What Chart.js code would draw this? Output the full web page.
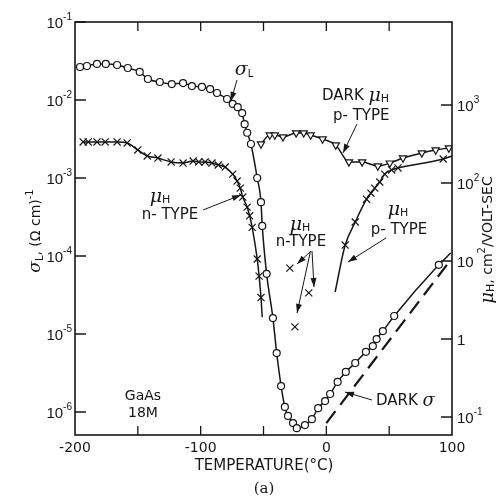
<!DOCTYPE html>
<html>
<head>
<meta charset="utf-8">
<script src="https://cdn.jsdelivr.net/npm/chart.js@4"></script>
<style>
  html, body { margin: 0; padding: 0; background: #fff; }
  canvas { display: block; }
</style>
</head>
<body>
<canvas id="c" width="496" height="499"></canvas>
<script>
// --- Data ---

// photo-conductivity sigma_L, (ohm cm)^-1  (open circles, left axis)
const sigmaTemp = [-196, -190.5, -182.5, -175.5, -166.5, -158, -148.5, -142, -132.5, -123, -114, -107, -99, -92.5, -87, -79,
                   -74.5, -70.5, -67, -65, -63, -60, -55, -52, -51, -47.5, -42.5, -39.5, -36, -33, -30.5, -26.5, -23.5,
                   -17, -11.5, -6.5, -1, 3, 9, 15.5, 23, 31.5, 37, 40, 45, 54, 89.5, 99];
const sigmaL    = [2.65e-2, 2.73e-2, 2.9e-2, 2.9e-2, 2.81e-2, 2.57e-2, 2.29e-2, 1.86e-2, 1.7e-2, 1.6e-2, 1.65e-2, 1.51e-2,
                   1.47e-2, 1.38e-2, 1.23e-2, 1.03e-2, 8.9e-3, 8.1e-3, 6.8e-3, 4.9e-3, 3.8e-3, 2.73e-3, 1.0e-3, 4.9e-4,
                   2.43e-4, 5.9e-5, 1.6e-5, 5.7e-6, 2.15e-6, 1.16e-6, 8.9e-7, 7.2e-7, 6.2e-7, 6.8e-7, 8.1e-7, 1.12e-6,
                   1.38e-6, 1.7e-6, 2.43e-6, 3.26e-6, 4.25e-6, 5.9e-6, 7.0e-6, 8.6e-6, 1.09e-5, 1.7e-5, 7.7e-5, 1.09e-4];

// dark conductivity (long dashes, left axis)
const darkSigmaTemp = [0, 100];
const darkSigma     = [7.2e-7, 9.4e-5];

// Hall mobility, n-type (crosses, right axis)
const muNTemp = [-193.5, -189.5, -182.5, -176, -166.5, -158.5, -150, -142.5, -134, -123.5, -114, -106, -101.5, -96.5,
                 -91, -86, -80.5, -74.5, -71, -68.5, -66.5, -63, -61, -59, -55, -53.5, -52, -51];
const muN     = [336, 336, 336, 336, 336, 326, 265, 222, 209, 186, 180, 191, 186, 186,
                 180, 170, 160, 130, 106, 86, 66, 49, 38, 27, 10.6, 6.4, 3.4, 1.9];

// isolated n-type points near the minimum
const muNIsoTemp = [-29, -14, -25];
const muNIso     = [8.1, 3.9, 1.43];

// Hall mobility, p-type (crosses, right axis)
const muPTemp = [7, 15, 23, 32, 35.5, 38.5, 42.5, 46.5, 52, 57, 93, 100];
const muP     = [4.0, 16, 31.6, 62, 74, 86, 103, 130, 147, 156, 203, 222];

// dark Hall mobility, p-type (inverted triangles, right axis)
const darkMuTemp = [-52, -45, -41, -34.5, -24, -18, -12.5, -3, 7.5, 18, 28.5, 41, 50.5, 61, 76, 87, 97.5];
const darkMu     = [316, 412, 412, 389, 438, 438, 412, 366, 307, 186, 186, 165, 180, 209, 243, 265, 281];

// --- Ticks ---
const xTickMarks      = [-150, -100, -50, 0, 50];
const leftTickValues  = [1e-1, 1e-2, 1e-3, 1e-4, 1e-5, 1e-6];
const leftTickLabels  = [["10", "-1"], ["10", "-2"], ["10", "-3"], ["10", "-4"], ["10", "-5"], ["10", "-6"]];
const rightTickValues = [1e-1, 1, 10, 100, 1000];
const rightTickLabels = [["10", "-1"], ["1", ""], ["10", ""], ["10", "2"], ["10", "3"]];

// --- Style ---
const INK   = "#161616";
const SANS  = '"DejaVu Sans", sans-serif';
const NUM   = '"Liberation Sans", sans-serif';
const SERIF = '"DejaVu Serif", serif';
const f  = size => `${size}px ${SANS}`;
const n  = size => `${size}px ${NUM}`;
const gk = size => `italic ${size}px ${SERIF}`;

function pts(xs, ys) {
    return xs.map((t, i) => ({ x: t, y: ys[i] }));
}

// marker radius per point, with optional bare ends (line only)
function radii(count, r, bareFirst, bareLast) {
    return Array.from({ length: count }, (_, i) =>
        (bareFirst && i === 0) || (bareLast && i === count - 1) ? 0 : r);
}

// draw a run of text pieces with their own fonts / offsets
function rich(ctx, parts, x, y, align) {
    let w = 0;
    parts.forEach(p => { ctx.font = p.f; p.w = ctx.measureText(p.t).width; w += p.w; });
    let cx = align === "center" ? x - w / 2 : align === "right" ? x - w : x;
    ctx.textAlign = "left";
    ctx.textBaseline = "middle";
    parts.forEach(p => { ctx.font = p.f; ctx.fillText(p.t, cx, y + (p.dy || 0)); cx += p.w; });
}

function arrow(ctx, a, b) {
    const ang = Math.atan2(b[1] - a[1], b[0] - a[0]);
    ctx.beginPath();
    ctx.moveTo(a[0], a[1]);
    ctx.lineTo(b[0], b[1]);
    ctx.stroke();
    const L = 9, W = 3;
    ctx.beginPath();
    ctx.moveTo(b[0], b[1]);
    ctx.lineTo(b[0] - L * Math.cos(ang) + W * Math.sin(ang), b[1] - L * Math.sin(ang) - W * Math.cos(ang));
    ctx.lineTo(b[0] - L * Math.cos(ang) - W * Math.sin(ang), b[1] - L * Math.sin(ang) + W * Math.cos(ang));
    ctx.closePath();
    ctx.fill();
}

const muH = size => [{ t: "μ", f: gk(size) }, { t: "H", f: f(11), dy: 3 }];

// frame, inward ticks, labels, notes
const paperPlugin = {
    id: "paper",
    afterDraw(chart) {
        const { ctx, chartArea: a, scales } = chart;
        const x = scales.x, yL = scales.yL, yR = scales.yR;
        // annotation positions in data units: temperature, log10 of left-axis value
        const P = (t, e) => [x.getPixelForValue(t), yL.getPixelForValue(Math.pow(10, e))];

        ctx.save();
        ctx.strokeStyle = INK;
        ctx.fillStyle = INK;

        // frame
        ctx.lineWidth = 1.6;
        ctx.strokeRect(a.left, a.top, a.right - a.left, a.bottom - a.top);

        // inward tick marks
        ctx.lineWidth = 1.3;
        ctx.beginPath();
        xTickMarks.forEach(v => {
            const px = x.getPixelForValue(v);
            ctx.moveTo(px, a.bottom); ctx.lineTo(px, a.bottom - 9);
            ctx.moveTo(px, a.top);    ctx.lineTo(px, a.top + 9);
        });
        leftTickValues.forEach(v => {
            const py = yL.getPixelForValue(v);
            ctx.moveTo(a.left, py); ctx.lineTo(a.left + 11, py);
        });
        rightTickValues.forEach(v => {
            const py = yR.getPixelForValue(v);
            ctx.moveTo(a.right, py); ctx.lineTo(a.right - 11, py);
        });
        ctx.stroke();

        // y tick labels (powers of ten)
        leftTickValues.forEach((v, i) => {
            const [b, e] = leftTickLabels[i];
            rich(ctx, [{ t: b, f: n(15) }, { t: e, f: n(10), dy: -7 }], a.left - 3, yL.getPixelForValue(v) + 2, "right");
        });
        rightTickValues.forEach((v, i) => {
            const [b, e] = rightTickLabels[i];
            rich(ctx, [{ t: b, f: n(15) }, { t: e, f: n(10), dy: -7 }], a.right + 5, yR.getPixelForValue(v) + 2, "left");
        });

        // axis titles
        ctx.save();
        ctx.translate(36, 231);
        ctx.rotate(-Math.PI / 2);
        rich(ctx, [{ t: "σ", f: gk(17) }, { t: "L", f: f(10), dy: 4 }, { t: ", (Ω cm)", f: f(14) },
                   { t: "-1", f: f(10), dy: -6 }], 0, 0, "center");
        ctx.restore();

        ctx.save();
        ctx.translate(488, 240);
        ctx.rotate(-Math.PI / 2);
        rich(ctx, [...muH(18), { t: ", cm", f: f(14) }, { t: "2", f: f(10), dy: -6 },
                   { t: "/VOLT-SEC", f: f(14) }], 0, 0, "center");
        ctx.restore();

        rich(ctx, [{ t: "TEMPERATURE(°C)", f: f(15) }], 264, 466, "center");
        rich(ctx, [{ t: "(a)", f: `15px ${SERIF}` }], 264, 489, "center");

        // curve notes
        ctx.lineWidth = 1;
        let p = P(-65.5, -1.615);
        rich(ctx, [{ t: "σ", f: gk(19) }, { t: "L", f: f(10), dy: 4 }], p[0], p[1], "center");
        arrow(ctx, P(-71.1, -1.744), P(-75.9, -2.013));

        p = P(-3.5, -1.949);
        rich(ctx, [{ t: "DARK ", f: f(15) }, ...muH(19)], p[0], p[1], "left");
        p = P(5.3, -2.205);
        rich(ctx, [{ t: "p- TYPE", f: f(15) }], p[0], p[1], "left");
        arrow(ctx, P(24.4, -2.308), P(13.3, -2.679));

        p = P(-132.4, -3.244);
        rich(ctx, muH(19), p[0], p[1], "center");
        p = P(-124.4, -3.474);
        rich(ctx, [{ t: "n- TYPE", f: f(15) }], p[0], p[1], "center");
        arrow(ctx, P(-98.1, -3.41), P(-67.9, -3.218));

        p = P(-21, -3.603);
        rich(ctx, muH(19), p[0], p[1], "center");
        p = P(-20.2, -3.821);
        rich(ctx, [{ t: "n-TYPE", f: f(15) }], p[0], p[1], "center");
        arrow(ctx, P(-12.2, -3.936), P(-23.3, -4.103));
        arrow(ctx, P(-11.4, -3.936), P(-9.8, -4.397));
        arrow(ctx, P(-12.6, -3.936), P(-23.3, -4.731));

        p = P(57, -3.41);
        rich(ctx, muH(19), p[0], p[1], "center");
        p = P(57.8, -3.667);
        rich(ctx, [{ t: "p- TYPE", f: f(15) }], p[0], p[1], "center");
        arrow(ctx, P(47.5, -3.769), P(17.2, -4.077));

        p = P(39.5, -5.859);
        rich(ctx, [{ t: "DARK ", f: f(15) }, { t: "σ", f: gk(18) }], p[0], p[1], "left");
        arrow(ctx, P(36.3, -5.846), P(14.8, -5.744));

        p = P(-145.9, -5.795);
        rich(ctx, [{ t: "GaAs", f: f(14) }], p[0], p[1], "center");
        p = P(-145.9, -6.013);
        rich(ctx, [{ t: "18M", f: f(14) }], p[0], p[1], "center");

        ctx.restore();
    }
};

// --- Chart ---

const lineBase = {
    showLine: true,
    borderColor: INK,
    borderWidth: 1.5,
    pointBorderColor: INK,
    pointBackgroundColor: "#fff",
    pointBorderWidth: 1.2,
    cubicInterpolationMode: "monotone",
};

const ctx = document.getElementById("c").getContext("2d");

new Chart(ctx, {
    type: "scatter",
    data: {
        datasets: [
            { ...lineBase, label: "sigma L", yAxisID: "yL", data: pts(sigmaTemp, sigmaL),
              pointStyle: "circle", pointRadius: radii(sigmaTemp.length, 3.5, false, true) },
            { ...lineBase, label: "dark sigma", yAxisID: "yL", data: pts(darkSigmaTemp, darkSigma),
              borderWidth: 2.2, borderDash: [15, 8], pointRadius: 0 },
            { ...lineBase, label: "mu H n-type", yAxisID: "yR", data: pts(muNTemp, muN),
              pointStyle: "crossRot", pointRadius: radii(muNTemp.length, 5, false, true) },
            { ...lineBase, label: "mu H n-type (isolated)", yAxisID: "yR", data: pts(muNIsoTemp, muNIso),
              showLine: false, pointStyle: "crossRot", pointRadius: 5 },
            { ...lineBase, label: "mu H p-type", yAxisID: "yR", data: pts(muPTemp, muP),
              pointStyle: "crossRot", pointRadius: radii(muPTemp.length, 5, true, true) },
            { ...lineBase, label: "dark mu H p-type", yAxisID: "yR", data: pts(darkMuTemp, darkMu),
              pointStyle: "triangle", rotation: 180, pointRadius: 4.2 },
        ]
    },
    options: {
        responsive: false,
        animation: false,
        devicePixelRatio: 1,
        layout: { padding: { top: 22, left: 0, right: 0, bottom: 0 } },
        plugins: { legend: { display: false }, tooltip: { enabled: false } },
        scales: {
            x: {
                type: "linear", position: "bottom", min: -200, max: 100,
                afterFit: s => { s.height = 64; },
                ticks: { stepSize: 100, color: INK, font: { family: "DejaVu Sans", size: 14 }, padding: 5,
                         maxRotation: 0, autoSkip: false, callback: v => String(v) },
                grid: { display: false, drawTicks: false },
                border: { display: false },
            },
            yL: {
                type: "logarithmic", position: "left", min: Math.pow(10, -6.295), max: 1e-1,
                afterFit: s => { s.width = 75; },
                ticks: { display: false },
                grid: { display: false, drawTicks: false },
                border: { display: false },
            },
            yR: {
                type: "logarithmic", position: "right", min: Math.pow(10, -1.231), max: Math.pow(10, 4.064),
                afterFit: s => { s.width = 44; },
                ticks: { display: false },
                grid: { display: false, drawTicks: false },
                border: { display: false },
            },
        }
    },
    plugins: [paperPlugin]
});
</script>
</body>
</html>
